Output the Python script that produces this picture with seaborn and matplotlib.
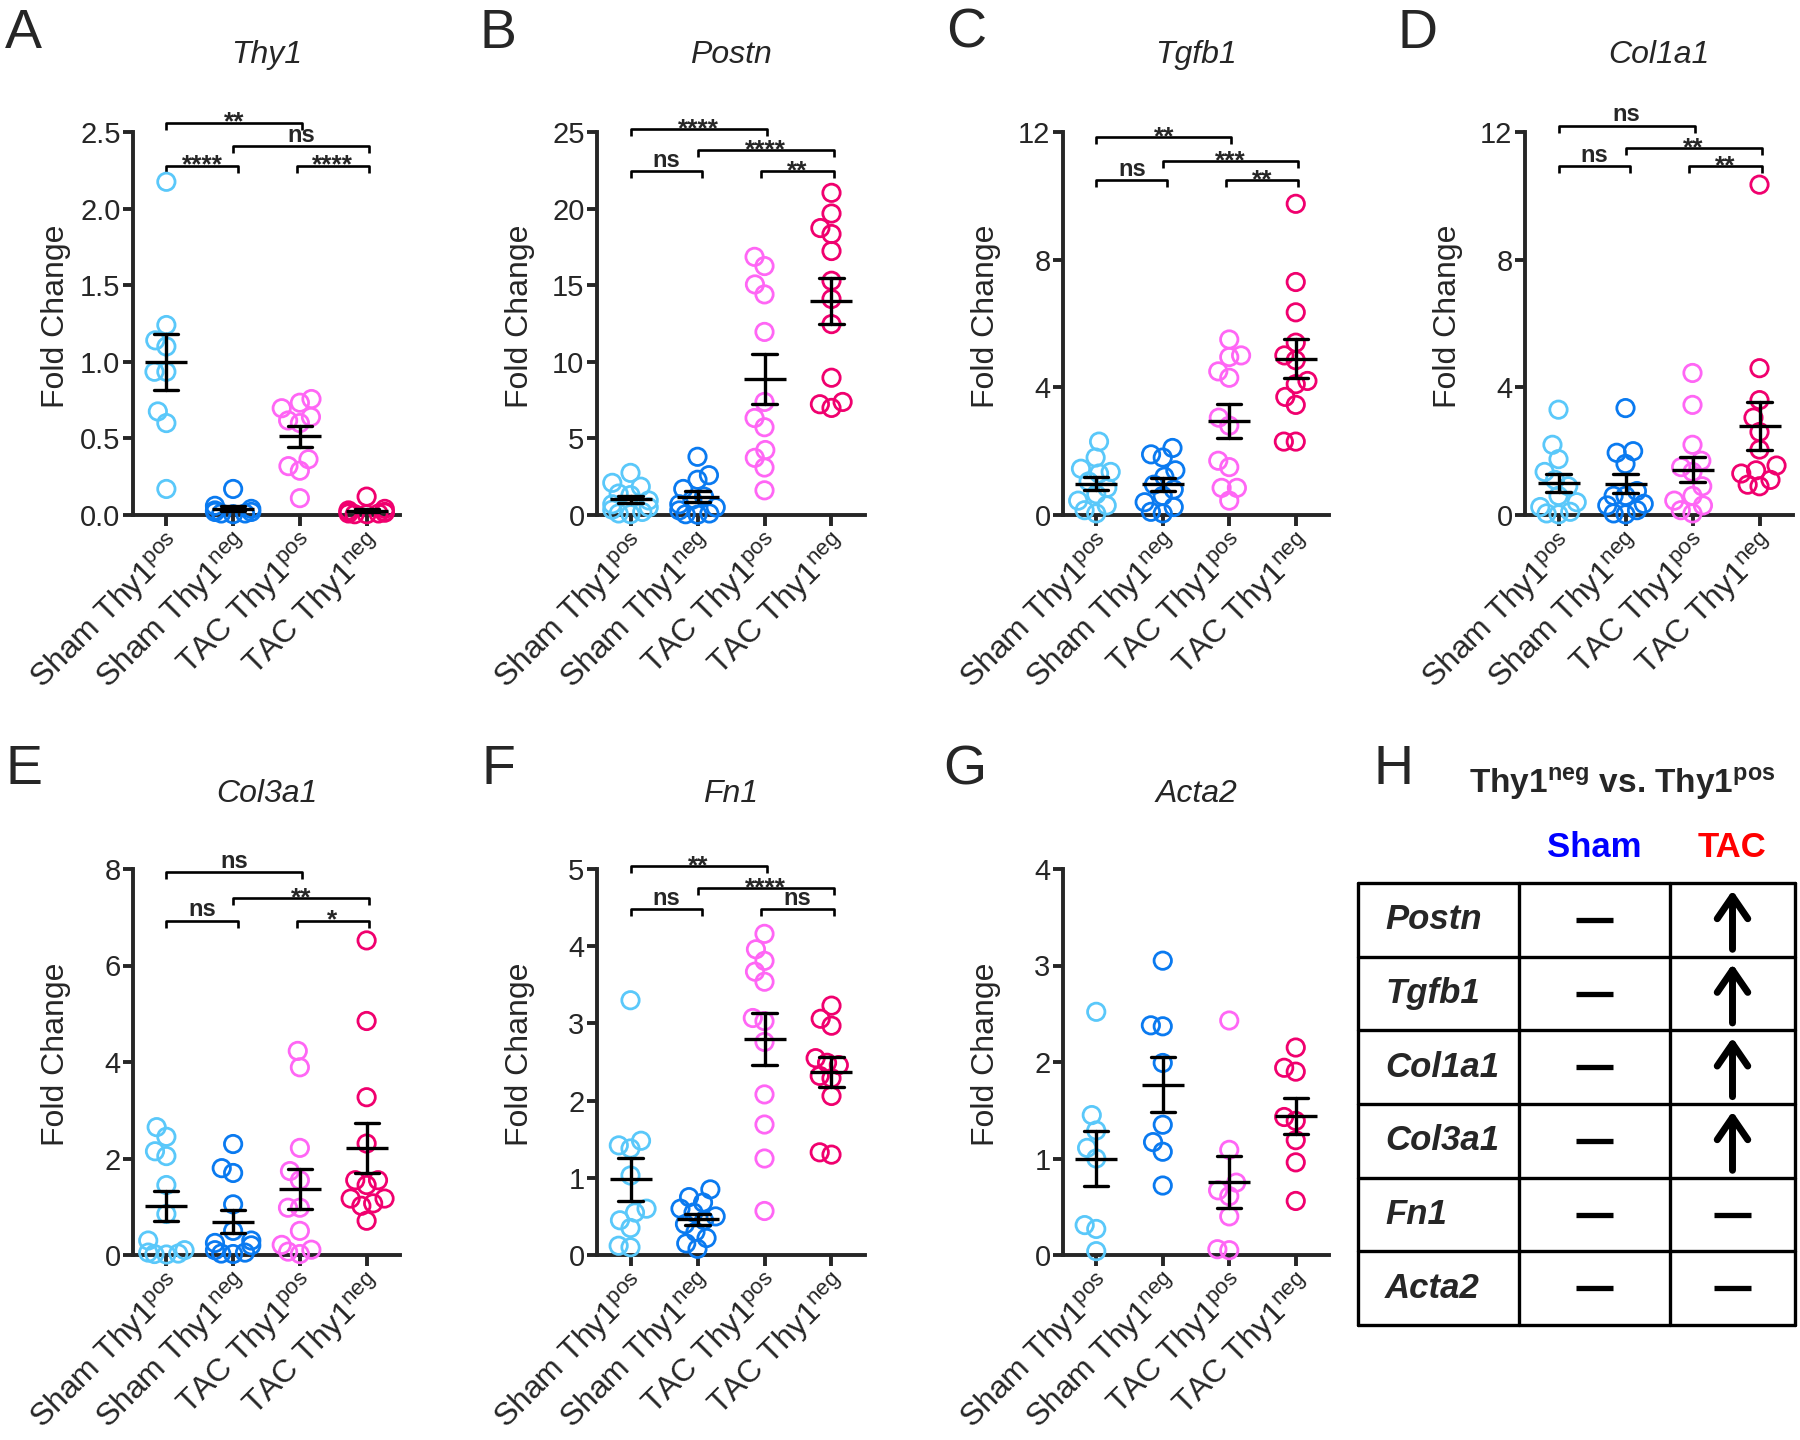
import numpy as np
import pandas as pd
import matplotlib
matplotlib.use("Agg")
import matplotlib.pyplot as plt
import seaborn as sns

# ---------------- data ----------------
group_keys = ["Sham Thy1pos", "Sham Thy1neg", "TAC Thy1pos", "TAC Thy1neg"]
tick_labels = [r"Sham Thy1$^{\mathrm{pos}}$", r"Sham Thy1$^{\mathrm{neg}}$",
               r"TAC Thy1$^{\mathrm{pos}}$", r"TAC Thy1$^{\mathrm{neg}}$"]
group_colors = ["#5AC8FA", "#0A7AF0", "#FF66F5", "#F0006E"]

genes = ["Thy1", "Postn", "Tgfb1", "Col1a1", "Col3a1", "Fn1", "Acta2"]
panel_letters = ["A", "B", "C", "D", "E", "F", "G"]

# Thy1
thy1_sham_pos = [2.175, 1.24, 1.14, 1.10, 0.935, 0.935, 0.676, 0.60, 0.17]
thy1_sham_neg = [0.17, 0.06, 0.04, 0.03, 0.02, 0.02, 0.01, 0.01, 0.005]
thy1_tac_pos = [0.757, 0.733, 0.697, 0.64, 0.60, 0.617, 0.364, 0.319, 0.289, 0.11]
thy1_tac_neg = [0.12, 0.04, 0.03, 0.02, 0.02, 0.015, 0.01, 0.01, 0.005, 0.005]
# Postn
postn_sham_pos = [2.75, 2.1, 1.85, 1.4, 1.3, 0.95, 0.7, 0.5, 0.35, 0.2, 0.1, 0.05]
postn_sham_neg = [3.8, 2.6, 2.3, 1.7, 1.2, 1.0, 0.7, 0.5, 0.3, 0.1, 0.05, 0.02]
postn_tac_pos = [16.85, 16.25, 15.05, 14.4, 11.95, 7.38, 6.33, 5.73, 4.24, 3.73, 3.1, 1.61]
postn_tac_neg = [21.03, 19.68, 18.73, 18.34, 17.23, 15.29, 14.1, 12.46, 8.96, 7.38, 7.23, 6.99]
# Tgfb1
tgfb1_sham_pos = [2.3, 1.8, 1.45, 1.35, 1.3, 1.05, 0.85, 0.65, 0.45, 0.3, 0.15, 0.05]
tgfb1_sham_neg = [2.1, 1.9, 1.8, 1.4, 1.2, 0.95, 0.8, 0.6, 0.4, 0.25, 0.1, 0.05]
tgfb1_tac_pos = [5.5, 5.0, 4.95, 4.5, 4.3, 3.05, 2.8, 1.7, 1.5, 0.85, 0.85, 0.45]
tgfb1_tac_neg = [9.75, 7.3, 6.35, 5.4, 5.0, 4.85, 4.2, 4.1, 3.7, 3.45, 2.3, 2.3]
# Col1a1
col1a1_sham_pos = [3.3, 2.2, 1.75, 1.35, 1.1, 0.9, 0.6, 0.4, 0.25, 0.1, 0.05, 0.02]
col1a1_sham_neg = [3.35, 2.0, 1.95, 1.6, 0.6, 0.75, 0.6, 0.35, 0.3, 0.15, 0.05, 0.02]
col1a1_tac_pos = [4.45, 3.45, 2.2, 1.7, 1.5, 1.35, 0.9, 0.6, 0.45, 0.3, 0.15, 0.05]
col1a1_tac_neg = [10.35, 4.6, 3.6, 3.05, 2.6, 2.05, 1.55, 1.4, 1.3, 1.1, 0.95, 0.9]
# Col3a1
col3a1_sham_pos = [2.65, 2.45, 2.15, 2.05, 1.45, 0.85, 0.3, 0.1, 0.05, 0.03, 0.02, 0.01]
col3a1_sham_neg = [2.3, 1.8, 1.7, 1.05, 0.5, 0.3, 0.25, 0.2, 0.1, 0.05, 0.03, 0.02]
col3a1_tac_pos = [4.23, 3.89, 2.22, 1.74, 1.55, 0.98, 0.98, 0.5, 0.21, 0.11, 0.07, 0.02]
col3a1_tac_neg = [6.52, 4.85, 3.27, 2.31, 1.55, 1.55, 1.45, 1.17, 1.17, 1.07, 1.02, 0.71]
# Fn1
fn1_sham_pos = [3.3, 1.48, 1.42, 1.38, 1.03, 0.6, 0.55, 0.45, 0.35, 0.12, 0.1]
fn1_sham_neg = [0.85, 0.75, 0.68, 0.6, 0.55, 0.5, 0.45, 0.4, 0.3, 0.22, 0.15, 0.08]
fn1_tac_pos = [4.16, 3.96, 3.81, 3.67, 3.54, 3.07, 3.03, 2.76, 2.08, 1.69, 1.25, 0.57]
fn1_tac_neg = [3.23, 3.06, 2.97, 2.55, 2.49, 2.46, 2.32, 2.29, 2.06, 1.3, 1.33]
# Acta2
acta2_sham_pos = [2.52, 1.45, 1.29, 1.11, 1.0, 0.31, 0.27, 0.04]
acta2_sham_neg = [3.05, 2.38, 2.37, 1.99, 1.35, 1.17, 1.07, 0.72]
acta2_tac_pos = [2.43, 1.09, 0.75, 0.67, 0.61, 0.4, 0.05, 0.06]
acta2_tac_neg = [2.15, 1.94, 1.9, 1.39, 1.43, 1.19, 0.96, 0.56]

# y ticks
thy1_yticks = [0, 0.5, 1.0, 1.5, 2.0, 2.5]
postn_yticks = [0, 5, 10, 15, 20, 25]
tgfb1_yticks = [0, 4, 8, 12]
col1a1_yticks = [0, 4, 8, 12]
col3a1_yticks = [0, 2, 4, 6, 8]
fn1_yticks = [0, 1, 2, 3, 4, 5]
acta2_yticks = [0, 1, 2, 3, 4]

# significance brackets: (group i, group j, height, label)
thy1_sig = [(0, 2, 2.56, "**"), (1, 3, 2.41, "ns"), (0, 1, 2.28, "****"), (2, 3, 2.28, "****")]
postn_sig = [(0, 2, 25.2, "****"), (1, 3, 23.8, "****"), (0, 1, 22.45, "ns"), (2, 3, 22.45, "**")]
tgfb1_sig = [(0, 2, 11.84, "**"), (1, 3, 11.09, "***"), (0, 1, 10.5, "ns"), (2, 3, 10.5, "**")]
col1a1_sig = [(0, 2, 12.2, "ns"), (1, 3, 11.5, "**"), (0, 1, 10.92, "ns"), (2, 3, 10.92, "**")]
col3a1_sig = [(0, 2, 7.93, "ns"), (1, 3, 7.40, "**"), (0, 1, 6.93, "ns"), (2, 3, 6.93, "*")]
fn1_sig = [(0, 2, 5.04, "**"), (1, 3, 4.75, "****"), (0, 1, 4.48, "ns"), (2, 3, 4.48, "ns")]
acta2_sig = []

# summary table (panel H)
table_genes = ["Postn", "Tgfb1", "Col1a1", "Col3a1", "Fn1", "Acta2"]
sham_change = ["none", "none", "none", "none", "none", "none"]
tac_change = ["up", "up", "up", "up", "none", "none"]

panels = [
    ([thy1_sham_pos, thy1_sham_neg, thy1_tac_pos, thy1_tac_neg], thy1_yticks, "{:.1f}", thy1_sig),
    ([postn_sham_pos, postn_sham_neg, postn_tac_pos, postn_tac_neg], postn_yticks, "{:d}", postn_sig),
    ([tgfb1_sham_pos, tgfb1_sham_neg, tgfb1_tac_pos, tgfb1_tac_neg], tgfb1_yticks, "{:d}", tgfb1_sig),
    ([col1a1_sham_pos, col1a1_sham_neg, col1a1_tac_pos, col1a1_tac_neg], col1a1_yticks, "{:d}", col1a1_sig),
    ([col3a1_sham_pos, col3a1_sham_neg, col3a1_tac_pos, col3a1_tac_neg], col3a1_yticks, "{:d}", col3a1_sig),
    ([fn1_sham_pos, fn1_sham_neg, fn1_tac_pos, fn1_tac_neg], fn1_yticks, "{:d}", fn1_sig),
    ([acta2_sham_pos, acta2_sham_neg, acta2_tac_pos, acta2_tac_neg], acta2_yticks, "{:d}", acta2_sig),
]

# ---------------- style ----------------
sns.set_style("ticks")
plt.rcParams["font.family"] = ["Liberation Sans", "DejaVu Sans"]
plt.rcParams["mathtext.fontset"] = "custom"
plt.rcParams["mathtext.rm"] = "Liberation Sans"
plt.rcParams["mathtext.it"] = "Liberation Sans:italic"
plt.rcParams["mathtext.bf"] = "Liberation Sans:bold"

W, H = 1800, 1440
fig = plt.figure(figsize=(18, 14.4), dpi=100)
fig.patch.set_facecolor("white")

# axes boxes in pixels: left, top, right, bottom
axes_px = [(133, 132, 400, 515), (597, 132, 865, 515), (1063, 132, 1329, 515), (1525, 132, 1793, 515),
           (133, 869, 400, 1255), (597, 869, 865, 1255), (1063, 869, 1329, 1255)]
letter_px = [(5, 8), (479, 8), (946, 8), (1397, 8), (5, 744), (481, 744), (943, 744)]
title_y_px = [55, 55, 55, 55, 794, 794, 794]

palette = dict(zip(group_keys, group_colors))
SPINE = 2.8
SWARM_SIZE = 10      # spacing used by the swarm layout
MARK_SIZE = 12.5     # drawn circle size
SPREAD = 0.68        # GraphPad-like tighter scatter width
swarm_colls = []

for k, (vals, yticks, fmt, sig) in enumerate(panels):
    l, t, r, b = axes_px[k]
    ax = fig.add_axes([l / W, 1 - b / H, (r - l) / W, (b - t) / H])
    df = pd.DataFrame({
        "group": np.repeat(group_keys, [len(v) for v in vals]),
        "value": np.concatenate([np.asarray(v, float) for v in vals]),
    })
    sns.swarmplot(data=df, x="group", y="value", hue="group", order=group_keys,
                  hue_order=group_keys, palette=palette, size=SWARM_SIZE, linewidth=2.0,
                  legend=False, ax=ax, warn_thresh=1.0)
    for coll in ax.collections:
        fc = coll.get_facecolors()
        coll.set_edgecolors(fc)
        coll.set_facecolors("none")
        coll.set_clip_on(False)
        coll.set_zorder(3)
        swarm_colls.append(coll)
    sns.pointplot(data=df, x="group", y="value", order=group_keys, errorbar="se",
                  color="black", marker="_", markersize=30, markeredgewidth=2.4,
                  linestyle="none", capsize=0.36,
                  err_kws={"linewidth": 2.4, "zorder": 6}, zorder=6, ax=ax)
    ymax = yticks[-1]
    ax.set_ylim(0, ymax)
    ax.set_xlim(-0.5, 3.5)
    ax.set_yticks(yticks)
    ax.set_yticklabels([fmt.format(v) for v in yticks])
    ax.set_xticks(range(4))
    ax.set_xticklabels(tick_labels, rotation=45, ha="right", va="top",
                       rotation_mode="anchor", fontsize=23)
    ax.set_xlabel("")
    ax.set_ylabel("Fold Change", fontsize=23)
    ax.yaxis.set_label_coords(-62 / (r - l), 0.52)
    for s in ["top", "right"]:
        ax.spines[s].set_visible(False)
    for s in ["left", "bottom"]:
        ax.spines[s].set_linewidth(SPINE)
    ax.tick_params(axis="y", width=SPINE, length=7, labelsize=21, pad=2)
    ax.tick_params(axis="x", width=SPINE, length=8, pad=2)
    ax.patch.set_alpha(0)

    # significance brackets
    dh = ymax * 0.018
    for (i, j, yv, lab) in sig:
        x1 = i - 0.05 if (i, j) == (2, 3) else i
        x2 = j + 0.07 if (i, j) == (0, 1) else j + 0.03
        ax.plot([x1, x1, x2, x2], [yv - dh, yv, yv, yv - dh], color="black", lw=1.9,
                clip_on=False, solid_capstyle="butt")
        if "*" in lab:
            ax.annotate(lab, xy=((x1 + x2) / 2, yv), xytext=(0, -5), textcoords="offset points",
                        ha="center", va="baseline", fontsize=19, fontweight="bold",
                        annotation_clip=False)
        else:
            ax.annotate(lab, xy=((x1 + x2) / 2, yv), xytext=(0, 3), textcoords="offset points",
                        ha="center", va="baseline", fontsize=17, fontweight="bold",
                        annotation_clip=False)

    # title and panel letter
    fig.text(((l + r) / 2) / W, 1 - title_y_px[k] / H, genes[k], fontsize=23,
             fontstyle="italic", ha="center", va="center")
    lx, ly = letter_px[k]
    fig.text(lx / W, 1 - ly / H, panel_letters[k], fontsize=40, ha="left", va="top")

# ---------------- panel H: summary table ----------------
tl, tt, tr, tb = 1358, 883, 1795, 1325
axh = fig.add_axes([tl / W, 1 - tb / H, (tr - tl) / W, (tb - tt) / H])
nrow = len(table_genes)
axh.set_xlim(0, 1)
axh.set_ylim(0, nrow)
axh.axis("off")
col_edges = [0, (1519 - tl) / (tr - tl), (1670 - tl) / (tr - tl), 1]
for yv in range(nrow + 1):
    axh.axhline(yv, color="black", lw=2.4, clip_on=False)
for xv in col_edges:
    axh.axvline(xv, color="black", lw=2.4, clip_on=False)
sham_cx = (col_edges[1] + col_edges[2]) / 2
tac_cx = (col_edges[2] + col_edges[3]) / 2
half = 0.042


def mark(cx, yc, kind):
    if kind == "up":
        axh.annotate("", xy=(cx, yc + 0.40), xytext=(cx, yc - 0.40),
                     arrowprops=dict(arrowstyle="->,head_length=0.8,head_width=0.55",
                                     lw=5, color="black", shrinkA=0, shrinkB=0,
                                     mutation_scale=20))
    else:
        axh.plot([cx - half, cx + half], [yc, yc], color="black", lw=3.8,
                 solid_capstyle="butt")


for i, g in enumerate(table_genes):
    yc = nrow - i - 0.5
    axh.text(0.062, yc, g, fontsize=25, fontweight="bold", fontstyle="italic",
             ha="left", va="center")
    mark(sham_cx, yc, sham_change[i])
    mark(tac_cx, yc, tac_change[i])

axh.text(sham_cx, (tb - 848) / ((tb - tt) / nrow), "Sham", color="#0000FF", fontsize=25,
         fontweight="bold", ha="center", va="center")
axh.text(tac_cx, (tb - 848) / ((tb - tt) / nrow), "TAC", color="#FF0000", fontsize=25,
         fontweight="bold", ha="center", va="center")
axh.text((1622 - tl) / (tr - tl), (tb - 784) / ((tb - tt) / nrow),
         r"Thy1$^{\mathbf{neg}}$ vs. Thy1$^{\mathbf{pos}}$", fontsize=24,
         fontweight="bold", ha="center", va="center")
fig.text(1373 / W, 1 - 744 / H, "H", fontsize=40, ha="left", va="top")

# lay out the swarms once, then freeze the positions, tighten them and enlarge the circles
fig.canvas.draw()
for coll in swarm_colls:
    if "draw" in coll.__dict__:
        del coll.draw
    offs = np.asarray(coll.get_offsets(), float).copy()
    if len(offs):
        c = np.round(np.mean(offs[:, 0]))
        offs[:, 0] = c + (offs[:, 0] - c) * SPREAD
        coll.set_offsets(offs)
    coll.set_sizes([MARK_SIZE ** 2])

fig.savefig("out.png", dpi=100, facecolor="white")
